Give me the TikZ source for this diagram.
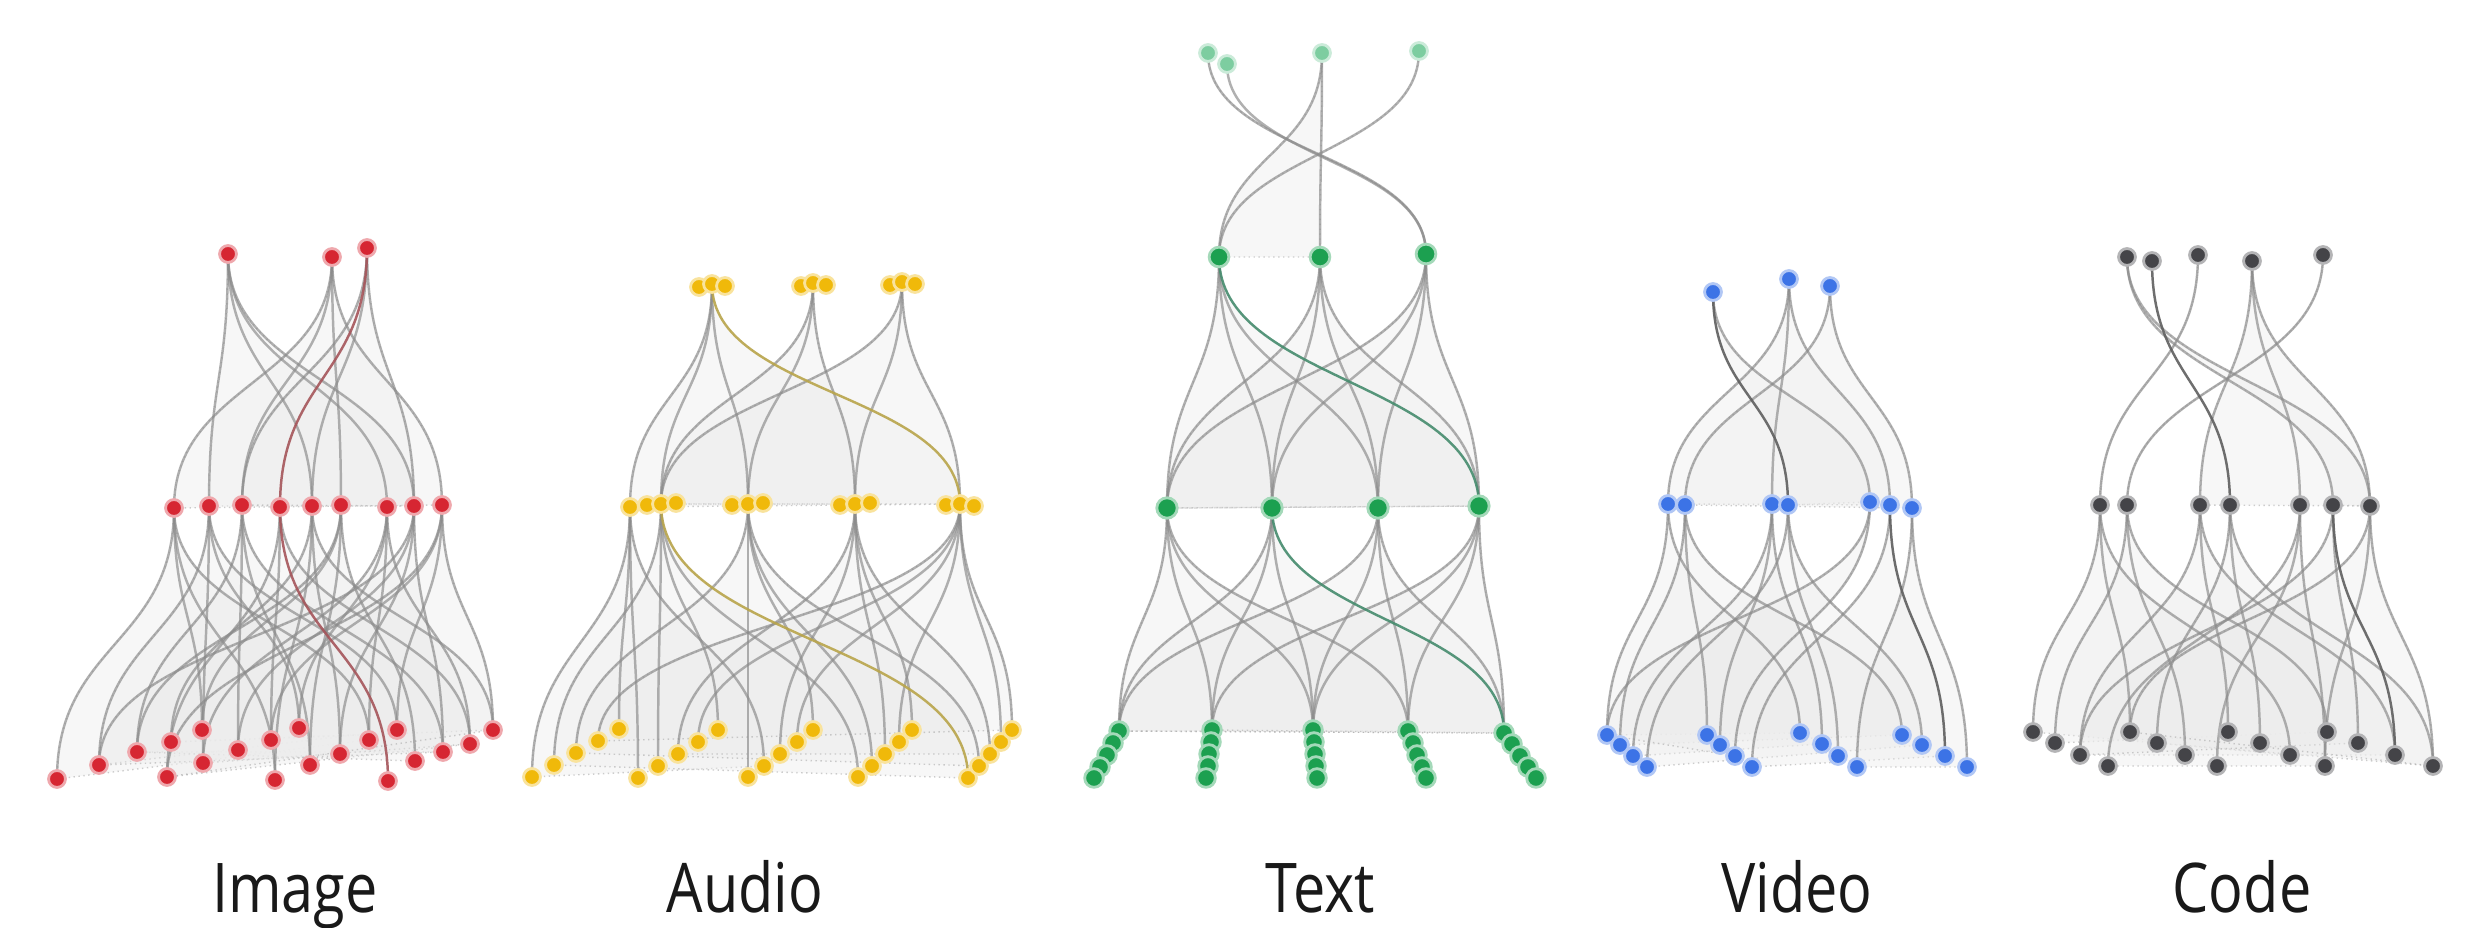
\documentclass[tikz,border=0pt]{standalone}
\usepackage{fontspec}
\setmainfont{Open Sans}
\newfontfamily\captionfont{Open Sans}[FakeStretch=0.84]
\usetikzlibrary{calc}
\pgfdeclarelayer{back}
\pgfdeclarelayer{fans}
\pgfdeclarelayer{edges}
\pgfsetlayers{back,fans,edges,main}

\definecolor{cImg}{RGB}{214,38,50}
\definecolor{cAud}{RGB}{240,185,10}
\definecolor{cTxt}{RGB}{28,160,80}
\definecolor{cTxtL}{RGB}{125,205,160}
\definecolor{cVid}{RGB}{60,115,230}
\definecolor{cCod}{RGB}{68,68,72}
\definecolor{edgegray}{RGB}{140,140,140}
\definecolor{hlImg}{RGB}{165,85,90}
\definecolor{hlAud}{RGB}{185,165,75}
\definecolor{hlTxt}{RGB}{70,140,110}
\definecolor{hlDark}{RGB}{95,95,95}

\tikzset{
  dot/.style={circle, inner sep=0pt, minimum size=4.8pt, fill=#1, draw=#1!40, line width=0.8pt},
  edge/.style={draw=edgegray, line width=0.7pt, draw opacity=0.68},
  fanfill/.style={fill=black!7, fill opacity=0.4, draw=gray!70, draw opacity=0.55, line width=0.4pt, densely dotted},
  label/.style={font=\captionfont\fontsize{19.5}{22}\selectfont, anchor=base, text=black!90},
}

% S-shaped connector with vertical tangents at both ends
\newcommand\sconn[3][]{%
  \path ($(#2.center)!0.5!(#3.center)$) coordinate (sc-mid);
  \draw[edge,#1] (#2.center) .. controls (#2.center |- sc-mid) and (#3.center |- sc-mid) .. (#3.center);%
}
% light ribbon spanning a parent and its outermost children
\newcommand\fan[3]{%
  \path ($(#1.center)!0.5!(#2.center)$) coordinate (fa-l);
  \path ($(#1.center)!0.5!(#3.center)$) coordinate (fa-r);
  \path[fanfill] (#1.center) .. controls (#1.center |- fa-l) and (#2.center |- fa-l) .. (#2.center)
     -- (#3.center) .. controls (#3.center |- fa-r) and (#1.center |- fa-r) .. (#1.center) -- cycle;%
}

\begin{document}
\begin{tikzpicture}[x=0.01cm, y=-0.01cm]
\begin{pgfonlayer}{back}
\fill[white] (0,0) rectangle (2477,928);
\end{pgfonlayer}
\useasboundingbox (0,0) rectangle (2477,928);

% ---------------- Image ----------------
\foreach \n/\x/\y in {t1/228/254, t2/332/257, t3/367/248,
  m1/174/508, m2/209/506, m3/242/505, m4/280/507, m5/312/506, m6/341/505, m7/387/507, m8/414/506, m9/442/505,
  b1/57/779, b2/99/765, b3/137/752, b4/167/777, b5/171/742, b6/202/730, b7/203/763, b8/238/750, b9/271/740, b10/275/780,
  b11/299/728, b12/310/765, b13/340/754, b14/369/740, b15/388/781, b16/397/730, b17/415/761, b18/443/752, b19/470/744, b20/493/730}
  {\node[dot=cImg] (I-\n) at (\x,\y) {};}

% ---------------- Audio ----------------
\foreach \n/\x/\y in {t1a/699/287, t1/712/284, t1b/725/286, t2a/801/286, t2/813/283, t2b/826/285, t3a/890/285, t3/902/282, t3b/915/284,
  m1/630/507, m2a/647/505, m2/661/504, m2b/676/503, m3a/732/505, m3/748/504, m3b/763/503,
  m4a/840/505, m4/855/504, m4b/870/503, m5a/946/505, m5/960/504, m5b/974/506,
  b1/532/777, b2/554/765, b3/576/753, b4/598/741, b5/619/729,
  b6/638/778, b7/658/766, b8/678/754, b9/698/742, b10/718/730,
  b11/748/777, b12/764/766, b13/780/754, b14/797/742, b15/813/730,
  b16/858/777, b17/872/766, b18/885/754, b19/899/742, b20/912/730,
  b21/968/778, b22/979/766, b23/990/754, b24/1001/742, b25/1012/730}
  {\node[dot=cAud] (A-\n) at (\x,\y) {};}

% ---------------- Text ----------------
\foreach \n/\x/\y in {t1/1208/53, t2/1227/64, t3/1322/53, t4/1419/51}
  {\node[dot=cTxtL] (T-\n) at (\x,\y) {};}
\foreach \n/\x/\y in {a/1219/257, b/1320/257, c/1426/254}
  {\node[dot=cTxt, minimum size=5.6pt] (T-u\n) at (\x,\y) {};}
\foreach \n/\x/\y in {a/1167/508, b/1272/508, c/1378/508, d/1479/506}
  {\node[dot=cTxt, minimum size=5.8pt] (T-v\n) at (\x,\y) {};}
\foreach \n/\x/\y in {
  c1a/1119/731, c1b/1113/743, c1c/1107/755, c1d/1100/767, c1e/1094/778,
  c2a/1212/730, c2b/1211/742, c2c/1209/754, c2d/1208/766, c2e/1206/778,
  c3a/1313/730, c3b/1314/742, c3c/1315/754, c3d/1316/766, c3e/1317/778,
  c4a/1408/731, c4b/1413/743, c4c/1417/755, c4d/1422/767, c4e/1426/778,
  c5a/1504/733, c5b/1512/744, c5c/1520/756, c5d/1528/767, c5e/1536/778}
  {\node[dot=cTxt, minimum size=5.3pt] (T-\n) at (\x,\y) {};}

% ---------------- Video ----------------
\foreach \n/\x/\y in {t1/1713/292, t2/1789/279, t3/1830/286,
  ma1/1668/504, ma2/1685/505, mb1/1772/504, mb2/1788/505, mc1/1870/502, mc2/1890/505, mc3/1912/508,
  g1a/1607/735, g1b/1620/745, g1c/1633/756, g1d/1647/767,
  g2a/1707/735, g2b/1720/745, g2c/1735/756, g2d/1752/767,
  g3a/1800/733, g3b/1822/744, g3c/1838/756, g3d/1857/767,
  g4a/1902/735, g4b/1922/745, g4c/1945/756, g4d/1967/767}
  {\node[dot=cVid] (V-\n) at (\x,\y) {};}

% ---------------- Code ----------------
\foreach \n/\x/\y in {t1/2127/257, t2/2152/261, t3/2198/255, t4/2252/261, t5/2323/255,
  m1/2100/505, m2/2127/505, m3/2200/505, m4/2230/505, m5/2300/505, m6/2333/505, m7/2370/506,
  b1/2033/732, b2/2055/743, b3/2080/755, b4/2108/766, b5/2130/732, b6/2157/743, b7/2185/755, b8/2217/766,
  b9/2228/732, b10/2260/743, b11/2290/755, b12/2325/766, b13/2327/732, b14/2358/743, b15/2395/755, b16/2433/766}
  {\node[dot=cCod] (C-\n) at (\x,\y) {};}

% ---------------- ribbons ----------------
\begin{pgfonlayer}{fans}
\foreach \p/\l/\r in {
  I-t1/I-m2/I-m8, I-t2/I-m1/I-m9, I-t3/I-m3/I-m8,
  I-m1/I-b1/I-b14, I-m2/I-b2/I-b16, I-m3/I-b3/I-b18, I-m4/I-b4/I-b19, I-m5/I-b5/I-b20,
  I-m6/I-b3/I-b17, I-m7/I-b7/I-b19, I-m8/I-b2/I-b18, I-m9/I-b4/I-b20,
  A-t1/A-m1/A-m5, A-t2/A-m2/A-m4, A-t3/A-m2/A-m5,
  A-m1/A-b1/A-b12, A-m2/A-b2/A-b21, A-m3/A-b3/A-b22, A-m4/A-b8/A-b23, A-m5/A-b4/A-b25,
  T-t1/T-uc/T-uc, T-t3/T-ua/T-ub, T-t4/T-ua/T-ua,
  T-ua/T-va/T-vd, T-ub/T-va/T-vd, T-uc/T-va/T-vd,
  T-va/T-c1a/T-c4a, T-vb/T-c1a/T-c5a, T-vc/T-c1a/T-c5a, T-vd/T-c2a/T-c5a,
  V-t1/V-mb2/V-mc1, V-t2/V-ma1/V-mc2, V-t3/V-ma2/V-mc3,
  V-ma1/V-g1a/V-g3a, V-ma2/V-g1b/V-g4a, V-mb1/V-g1c/V-g3b, V-mb2/V-g1d/V-g4b,
  V-mc1/V-g1a/V-g2c, V-mc2/V-g2d/V-g4c, V-mc3/V-g3d/V-g4d,
  C-t1/C-m6/C-m7, C-t3/C-m1/C-m1, C-t4/C-m3/C-m7, C-t5/C-m2/C-m2,
  C-m1/C-b1/C-b11, C-m2/C-b2/C-b13, C-m3/C-b3/C-b15, C-m4/C-b6/C-b16,
  C-m5/C-b4/C-b12, C-m6/C-b3/C-b14, C-m7/C-b5/C-b16}
  {\fan{\p}{\l}{\r}}
\end{pgfonlayer}

% ---------------- connectors ----------------
\begin{pgfonlayer}{edges}
\foreach \a/\b in {
  I-t1/I-m2, I-t1/I-m5, I-t1/I-m7, I-t1/I-m8,
  I-t2/I-m1, I-t2/I-m3, I-t2/I-m6, I-t2/I-m9,
  I-t3/I-m3, I-t3/I-m5, I-t3/I-m8,
  I-m1/I-b1, I-m1/I-b6, I-m1/I-b10, I-m1/I-b14,
  I-m2/I-b2, I-m2/I-b7, I-m2/I-b11, I-m2/I-b16,
  I-m3/I-b3, I-m3/I-b8, I-m3/I-b12, I-m3/I-b18,
  I-m4/I-b4, I-m4/I-b9, I-m4/I-b19,
  I-m5/I-b5, I-m5/I-b10, I-m5/I-b13, I-m5/I-b20,
  I-m6/I-b3, I-m6/I-b6, I-m6/I-b12, I-m6/I-b17,
  I-m7/I-b7, I-m7/I-b11, I-m7/I-b14, I-m7/I-b19,
  I-m8/I-b2, I-m8/I-b8, I-m8/I-b13, I-m8/I-b18,
  I-m9/I-b4, I-m9/I-b9, I-m9/I-b16, I-m9/I-b20,
  A-t1/A-m1, A-t1/A-m2, A-t1/A-m3,
  A-t2/A-m2, A-t2/A-m3, A-t2/A-m4,
  A-t3/A-m2, A-t3/A-m4, A-t3/A-m5,
  A-m1/A-b1, A-m1/A-b5, A-m1/A-b6, A-m1/A-b12,
  A-m2/A-b2, A-m2/A-b7, A-m2/A-b10, A-m2/A-b16,
  A-m3/A-b3, A-m3/A-b11, A-m3/A-b15, A-m3/A-b17, A-m3/A-b22,
  A-m4/A-b8, A-m4/A-b13, A-m4/A-b18, A-m4/A-b20, A-m4/A-b23,
  A-m5/A-b4, A-m5/A-b9, A-m5/A-b14, A-m5/A-b19, A-m5/A-b24, A-m5/A-b25,
  T-t1/T-uc, T-t2/T-uc, T-t3/T-ua, T-t3/T-ub, T-t4/T-ua,
  T-ua/T-va, T-ua/T-vb, T-ua/T-vc,
  T-ub/T-va, T-ub/T-vb, T-ub/T-vc, T-ub/T-vd,
  T-uc/T-va, T-uc/T-vb, T-uc/T-vc, T-uc/T-vd,
  T-va/T-c1a, T-va/T-c2a, T-va/T-c3a, T-va/T-c4a,
  T-vb/T-c1a, T-vb/T-c2a, T-vb/T-c3a,
  T-vc/T-c1a, T-vc/T-c3a, T-vc/T-c4a, T-vc/T-c5a,
  T-vd/T-c2a, T-vd/T-c3a, T-vd/T-c4a, T-vd/T-c5a,
  V-t1/V-mc1, V-t2/V-ma1, V-t2/V-mb1, V-t2/V-mc2, V-t3/V-ma2, V-t3/V-mc3,
  V-ma1/V-g1a, V-ma1/V-g3a, V-ma2/V-g1b, V-ma2/V-g2a, V-ma2/V-g4a,
  V-mb1/V-g1c, V-mb1/V-g2b, V-mb1/V-g3b, V-mb2/V-g1d, V-mb2/V-g3c, V-mb2/V-g4b,
  V-mc1/V-g1a, V-mc1/V-g2c, V-mc2/V-g2d, V-mc3/V-g3d, V-mc3/V-g4d,
  C-t1/C-m6, C-t1/C-m7, C-t3/C-m1, C-t4/C-m3, C-t4/C-m5, C-t4/C-m7, C-t5/C-m2,
  C-m1/C-b1, C-m1/C-b5, C-m1/C-b11,
  C-m2/C-b2, C-m2/C-b7, C-m2/C-b13,
  C-m3/C-b3, C-m3/C-b9, C-m3/C-b15,
  C-m4/C-b6, C-m4/C-b10, C-m4/C-b16,
  C-m5/C-b4, C-m5/C-b8, C-m5/C-b12,
  C-m6/C-b3, C-m6/C-b14,
  C-m7/C-b5, C-m7/C-b12, C-m7/C-b16}
  {\sconn{\a}{\b}}
% tinted paths
\sconn[draw=hlImg, draw opacity=0.9]{I-t3}{I-m4}
\sconn[draw=hlImg, draw opacity=0.9]{I-m4}{I-b15}
\sconn[draw=hlAud, draw opacity=0.9]{A-t1}{A-m5}
\sconn[draw=hlAud, draw opacity=0.9]{A-m2}{A-b21}
\sconn[draw=hlTxt, draw opacity=0.9]{T-ua}{T-vd}
\sconn[draw=hlTxt, draw opacity=0.9]{T-vb}{T-c5a}
\sconn[draw=hlDark, draw opacity=0.9]{V-t1}{V-mb2}
\sconn[draw=hlDark, draw opacity=0.9]{V-mc2}{V-g4c}
\sconn[draw=hlDark, draw opacity=0.9]{C-t2}{C-m4}
\sconn[draw=hlDark, draw opacity=0.9]{C-m6}{C-b15}
\end{pgfonlayer}

% ---------------- captions ----------------
\node[label] (lab-img) at (295,913) {Image};
\node[label] (lab-aud) at (745,913) {Audio};
\node[label] (lab-txt) at (1320,913) {Text};
\node[label] (lab-vid) at (1797,913) {Video};
\node[label] (lab-cod) at (2242,913) {Code};
\end{tikzpicture}
\end{document}
